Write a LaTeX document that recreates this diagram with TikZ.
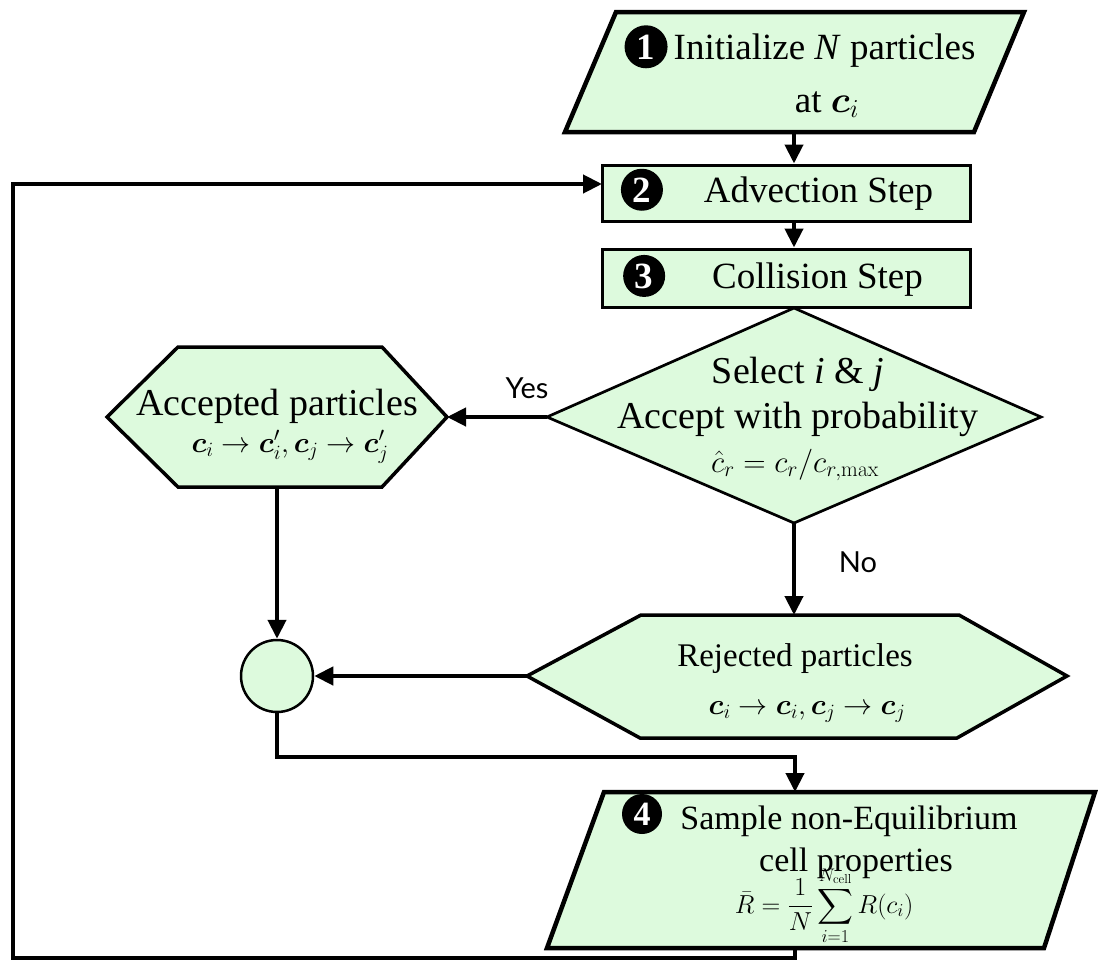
\RequirePackage{fix-cm}
\documentclass[tikz,border=0pt]{standalone}
\usepackage{amsmath}
\usepackage[no-math]{fontspec}
\setmainfont{Liberation Serif}
\newfontfamily\labelfont{Lato}
\usetikzlibrary{arrows.meta}
\definecolor{flowgreen}{RGB}{221,250,221}
\newcommand\setfs[1]{\fontsize{#1}{#1}\selectfont}
% white serif digit on a black disc, used to number the steps
\newcommand\stepnum[2][42pt]{\tikz[baseline=(d.base)]\node[circle,fill=black,text=white,inner sep=0pt,minimum size=#1,font=\bfseries](d){#2};}
\begin{document}
\begin{tikzpicture}[x=1pt,y=-1pt,
  shapeline/.style={draw=black,fill=flowgreen,line join=miter},
  box/.style={shapeline,line width=3pt,rectangle,inner sep=0pt},
  conn/.style={line width=4.2pt,-{Triangle[length=19pt,width=18pt]}},
  txt/.style={anchor=base,inner sep=0pt},
  ans/.style={anchor=center,inner sep=0pt,font=\labelfont\setfs{29}}]
\useasboundingbox (0,0) rectangle (1098,961);

% step 1: initialisation
\coordinate (p1a) at (616,12);  \coordinate (p1b) at (1024,12);
\coordinate (p1c) at (974,132); \coordinate (p1d) at (565,132);
\filldraw[shapeline,line width=4.5pt] (p1a)--(p1b)--(p1c)--(p1d)--cycle;
\coordinate (p1out) at (794,132);
\node[txt,font=\setfs{37}] (t1a) at (800,59) {\stepnum[43pt]{1}\,Initialize \textit{N} particles};
\node[txt,font=\setfs{37}] (t1b) at (827,112) {at $\boldsymbol{c}_i$};

% steps 2 and 3
\node[box,minimum width=368pt,minimum height=56pt] (b2) at (786,193) {};
\node[txt,font=\setfs{37}] (t2) at (777,202) {\stepnum{2}\hspace{41pt}Advection Step};
\node[box,minimum width=368pt,minimum height=58pt] (b3) at (786,278) {};
\node[txt,font=\setfs{37}] (t3) at (773,288) {\stepnum{3}\hspace{47pt}Collision Step};

% acceptance test
\coordinate (dT) at (794,308); \coordinate (dR) at (1041,417);
\coordinate (dB) at (794,523); \coordinate (dL) at (547,417);
\filldraw[shapeline,line width=2.7pt] (dT)--(dR)--(dB)--(dL)--cycle;
\node[txt,font=\setfs{38}] (td1) at (798,383) {Select \textit{i} \& \textit{j}};
\node[txt,font=\setfs{38}] (td2) at (798,428) {Accept with probability};
\node[txt,font=\setfs{31}] (td3) at (795,472) {$\hat{c}_r = c_r/c_{r,\max}$};

% accepted pair
\coordinate (a1) at (178,347); \coordinate (a2) at (382,347); \coordinate (aR) at (447,417);
\coordinate (a4) at (382,487); \coordinate (a5) at (178,487); \coordinate (aL) at (107,417);
\coordinate (aB) at (277,487);
\filldraw[shapeline,line width=3.5pt] (a1)--(a2)--(aR)--(a4)--(a5)--(aL)--cycle;
\node[txt,font=\setfs{38}] (ta1) at (277,415) {Accepted particles};
\node[txt,font=\setfs{29}] (ta2) at (290,452) {$\boldsymbol{c}_i \to \boldsymbol{c}'_i, \boldsymbol{c}_j \to \boldsymbol{c}'_j$};

% rejected pair
\coordinate (r1) at (641,615); \coordinate (r2) at (959,615); \coordinate (rR) at (1067,676);
\coordinate (r4) at (957,738); \coordinate (r5) at (640,738); \coordinate (rL) at (527,676);
\coordinate (rT) at (794,615);
\filldraw[shapeline,line width=3.5pt] (r1)--(r2)--(rR)--(r4)--(r5)--(rL)--cycle;
\node[txt,font=\setfs{33}] (tr1) at (795,666) {Rejected particles};
\node[txt,font=\setfs{29}] (tr2) at (807,714) {$\boldsymbol{c}_i \to \boldsymbol{c}_i, \boldsymbol{c}_j \to \boldsymbol{c}_j$};

% merge point
\node[circle,shapeline,line width=2.5pt,minimum size=72pt,inner sep=0pt] (m) at (277,676) {};

% step 4: sampling
\coordinate (q1) at (604,792);  \coordinate (q2) at (1095,792);
\coordinate (q3) at (1044,948); \coordinate (q4) at (547,948);
\coordinate (q4top) at (795,792); \coordinate (q4bot) at (795,948);
\filldraw[shapeline,line width=4.5pt] (q1)--(q2)--(q3)--(q4)--cycle;
\node[inner sep=0pt] (n4) at (642,814) {\stepnum[40pt]{\setfs{34}4}};
\node[txt,font=\setfs{34}] (t4a) at (849,829) {Sample non-Equilibrium};
\node[txt,font=\setfs{34}] (t4b) at (856,871) {cell properties};
\node[txt,font=\setfs{26}] (t4c) at (824,913) {$\displaystyle \bar{R} = \frac{1}{N}\sum_{i=1}^{N_{\mathrm{cell}}} R(c_i)$};

% connectors
\draw[conn] (p1out) -- (p1out |- b2.north);
\draw[conn] (b2.south -| p1out) -- (b3.north -| p1out);
\draw[conn] (dL) -- (aR);
\node[ans] (yes) at (527,388) {Yes};
\draw[conn] (dB) -- (rT);
\node[ans] (no) at (858,562) {No};
\draw[conn] (aB) -- (m.north);
\draw[conn] (rL) -- (m.east);
\coordinate (mj) at (795,757);
\draw[conn] (m.south) |- (mj) -- (q4top);
\coordinate (lowr) at (795,958);
\coordinate (loopc) at (13,184);
\coordinate (b2in) at (602,184);
\draw[conn] (q4bot) -- (lowr) -| (loopc) -- (b2in);
\end{tikzpicture}
\end{document}
